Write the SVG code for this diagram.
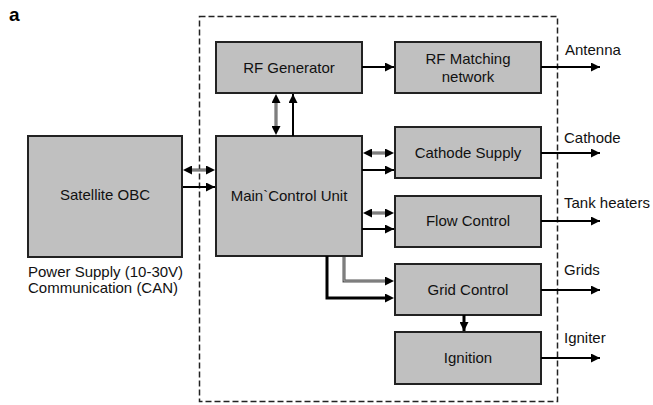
<svg xmlns="http://www.w3.org/2000/svg" width="653" height="405" viewBox="0 0 653 405">
  <style>
    .box { fill: #c0c0c0; stroke: #222; stroke-width: 2; }
    .lbl { font-family: "Liberation Sans", Arial, sans-serif; font-size: 15px; fill: #111; }
    .mid { text-anchor: middle; }
    .blk { stroke: #000; stroke-width: 2; fill: none; }
    .thick { stroke: #000; stroke-width: 3; fill: none; }
    .gry { stroke: #555; stroke-width: 3; fill: none; }
    .gry-in { stroke: #a8a8a8; stroke-width: 1; fill: none; }
  </style>
  <defs>
    <marker id="ah" viewBox="0 0 10 10" refX="10" refY="5" markerWidth="10" markerHeight="9" markerUnits="userSpaceOnUse" orient="auto-start-reverse">
      <path d="M0,0 L10,5 L0,10 Z" fill="#000"/>
    </marker>
  </defs>

  <rect width="653" height="405" fill="#fff"/>
  <text x="9" y="21" font-family="Liberation Sans, Arial, sans-serif" font-size="19" font-weight="bold" fill="#000">a</text>

  <!-- enclosure of the propulsion electronics -->
  <rect x="199.5" y="16.5" width="358" height="385" fill="none" stroke="#222" stroke-width="1.5" stroke-dasharray="6,3"/>

  <g id="obc">
    <rect class="box" x="28" y="136" width="154" height="121"/>
    <text class="lbl mid" x="105" y="200">Satellite OBC</text>
  </g>
  <g id="obc-notes">
    <text class="lbl" x="28" y="277">Power Supply (10-30V)</text>
    <text class="lbl" x="28" y="293">Communication (CAN)</text>
  </g>
  <g id="rf-generator">
    <rect class="box" x="216" y="42" width="146" height="51"/>
    <text class="lbl mid" x="289" y="73">RF Generator</text>
  </g>
  <g id="rf-matching">
    <rect class="box" x="395" y="42" width="146" height="51"/>
    <text class="lbl mid" x="468" y="64">RF Matching</text>
    <text class="lbl mid" x="468" y="82">network</text>
  </g>
  <g id="main-control">
    <rect class="box" x="216" y="136" width="146" height="120"/>
    <text class="lbl mid" x="289" y="201">Main`Control Unit</text>
  </g>
  <g id="cathode-supply">
    <rect class="box" x="395" y="127" width="146" height="51"/>
    <text class="lbl mid" x="468" y="158">Cathode Supply</text>
  </g>
  <g id="flow-control">
    <rect class="box" x="395" y="196" width="146" height="51"/>
    <text class="lbl mid" x="468" y="226">Flow Control</text>
  </g>
  <g id="grid-control">
    <rect class="box" x="395" y="264" width="146" height="51"/>
    <text class="lbl mid" x="468" y="295">Grid Control</text>
  </g>
  <g id="ignition">
    <rect class="box" x="395" y="332" width="146" height="52"/>
    <text class="lbl mid" x="468" y="363">Ignition</text>
  </g>

  <g id="connectors">
    <!-- bidirectional (grey) links -->
    <line class="gry" x1="192" y1="170" x2="206" y2="170"/>
    <line class="gry-in" x1="192" y1="170" x2="206" y2="170"/>
    <line x1="183" y1="170" x2="215" y2="170" stroke="none" marker-start="url(#ah)" marker-end="url(#ah)"/>

    <line class="gry" x1="276" y1="103" x2="276" y2="126"/>
    <line class="gry-in" x1="276" y1="103" x2="276" y2="126"/>
    <line x1="276" y1="94" x2="276" y2="135" stroke="none" marker-start="url(#ah)" marker-end="url(#ah)"/>

    <line class="gry" x1="372" y1="153" x2="385" y2="153"/>
    <line class="gry-in" x1="372" y1="153" x2="385" y2="153"/>
    <line x1="363" y1="153" x2="394" y2="153" stroke="none" marker-start="url(#ah)" marker-end="url(#ah)"/>

    <line class="gry" x1="372" y1="213" x2="385" y2="213"/>
    <line class="gry-in" x1="372" y1="213" x2="385" y2="213"/>
    <line x1="363" y1="213" x2="394" y2="213" stroke="none" marker-start="url(#ah)" marker-end="url(#ah)"/>

    <polyline class="gry" points="344,257 344,281 386,281"/>
    <polyline class="gry-in" points="344,257 344,281 386,281"/>
    <line x1="380" y1="281" x2="394" y2="281" stroke="none" marker-end="url(#ah)"/>

    <!-- one-way links -->
    <line class="blk" x1="183" y1="187" x2="215" y2="187" marker-end="url(#ah)"/>
    <line class="blk" x1="293" y1="136" x2="293" y2="94" marker-end="url(#ah)"/>
    <line class="blk" x1="362" y1="67" x2="394" y2="67" marker-end="url(#ah)"/>
    <line class="blk" x1="362" y1="170" x2="394" y2="170" marker-end="url(#ah)"/>
    <line class="blk" x1="362" y1="229" x2="394" y2="229" marker-end="url(#ah)"/>
    <polyline class="thick" points="327,256 327,298 386,298"/>
    <line x1="380" y1="298" x2="394" y2="298" stroke="none" marker-end="url(#ah)"/>
    <line class="thick" x1="464" y1="315" x2="464" y2="331" marker-end="url(#ah)"/>

    <!-- outputs -->
    <line class="blk" x1="541" y1="67" x2="600" y2="67" marker-end="url(#ah)"/>
    <line class="blk" x1="541" y1="153" x2="600" y2="153" marker-end="url(#ah)"/>
    <line class="blk" x1="541" y1="221" x2="600" y2="221" marker-end="url(#ah)"/>
    <line class="blk" x1="541" y1="290" x2="600" y2="290" marker-end="url(#ah)"/>
    <line class="blk" x1="541" y1="358" x2="600" y2="358" marker-end="url(#ah)"/>
  </g>

  <g id="output-labels">
    <text class="lbl" x="565" y="55">Antenna</text>
    <text class="lbl" x="564" y="143">Cathode</text>
    <text class="lbl" x="564" y="208">Tank heaters</text>
    <text class="lbl" x="564" y="275">Grids</text>
    <text class="lbl" x="564" y="343">Igniter</text>
  </g>
</svg>
